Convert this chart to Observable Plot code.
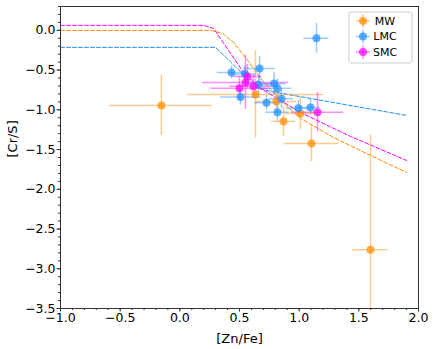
<!DOCTYPE html>
<html>
<head>
<meta charset="utf-8">
<script src="https://cdn.jsdelivr.net/npm/d3@7"></script>
<script src="https://cdn.jsdelivr.net/npm/@observablehq/plot@0.6"></script>
<style>
  body { margin: 0; background: #fff; }
  #chart { position: relative; width: 436px; height: 349px; }
  svg { font-family: "DejaVu Sans", sans-serif; }
</style>
</head>
<body>
<div id="chart"></div>
<script>
// ---- data ----
const seriesNames = ["MW", "LMC", "SMC"];
const seriesColors = ["#ff8c00", "#1e90ff", "#ff00ff"];

const mwX    = [-0.154, 1.598, 1.103, 0.869, 1.010, 0.810, 0.634];
const mwY    = [-0.945, -2.760, -1.423, -1.146, -1.045, -0.894, -0.806];
const mwXerr = [0.43, 0.147, 0.23, 0.10, 0.126, 0.17, 0.57];
const mwYerr = [0.38, 1.44, 0.23, 0.19, 0.20, 0.15, 0.55];

const lmcX    = [1.145, 0.433, 0.668, 0.545, 0.508, 0.660, 0.790, 0.818, 0.726, 0.852, 0.818, 0.994, 1.095];
const lmcY    = [-0.10, -0.53, -0.48, -0.55, -0.84, -0.68, -0.67, -0.73, -0.91, -0.86, -1.03, -0.98, -0.97];
const lmcXerr = [0.105, 0.12, 0.13, 0.10, 0.17, 0.12, 0.10, 0.12, 0.10, 0.10, 0.10, 0.10, 0.08];
const lmcYerr = [0.19, 0.08, 0.15, 0.10, 0.10, 0.12, 0.14, 0.12, 0.10, 0.12, 0.12, 0.10, 0.10];

const smcX    = [0.567, 0.550, 0.500, 0.617, 1.154];
const smcY    = [-0.58, -0.655, -0.73, -0.705, -1.03];
const smcXerr = [0.12, 0.36, 0.24, 0.20, 0.22];
const smcYerr = [0.15, 0.34, 0.15, 0.15, 0.25];

const mwLineX  = [-1.0, 0.257, 0.358, 0.450, 0.550, 0.693, 0.844, 1.011, 1.288, 1.598, 1.900];
const mwLineY  = [0.0, 0.0, -0.038, -0.151, -0.340, -0.630, -0.882, -1.108, -1.348, -1.574, -1.788];
const lmcLineX = [-1.0, 0.299, 0.567, 0.610, 0.659, 0.760, 1.900];
const lmcLineY = [-0.214, -0.214, -0.605, -0.665, -0.730, -0.768, -1.071];
const smcLineX = [-1.0, 0.198, 0.282, 0.408, 0.534, 0.676, 1.011, 1.430, 1.900];
const smcLineY = [0.063, 0.063, 0.025, -0.252, -0.529, -0.730, -1.033, -1.335, -1.637];

const xTicks = [-1.0, -0.5, 0.0, 0.5, 1.0, 1.5, 2.0];
const yTicks = [0.0, -0.5, -1.0, -1.5, -2.0, -2.5, -3.0, -3.5];

// ---- build tables ----
function pts(xs, ys, xe, ye, name) {
  return xs.map((x, i) => ({x, y: ys[i], xe: xe[i], ye: ye[i], s: name}));
}
const points = [
  ...pts(mwX, mwY, mwXerr, mwYerr, "MW"),
  ...pts(lmcX, lmcY, lmcXerr, lmcYerr, "LMC"),
  ...pts(smcX, smcY, smcXerr, smcYerr, "SMC")
];
function ln(xs, ys, name) { return xs.map((x, i) => ({x, y: ys[i], s: name})); }
const lines = [
  ...ln(mwLineX, mwLineY, "MW"),
  ...ln(lmcLineX, lmcLineY, "LMC"),
  ...ln(smcLineX, smcLineY, "SMC")
];
const colorOf = Object.fromEntries(seriesNames.map((n, i) => [n, seriesColors[i]]));
const fmt = d3.format(".1f");
const minorX = d3.range(-10, 21).map(d => d / 10);
const minorY = d3.range(-35, 4).map(d => d / 10);

const chart = Plot.plot({
  width: 436,
  height: 349,
  marginLeft: 60,
  marginRight: 18,
  marginTop: 6,
  marginBottom: 41,
  style: {fontFamily: "DejaVu Sans, sans-serif", fontSize: "12.5px", color: "#000", background: "#fff"},
  x: {domain: [-1, 2]},
  y: {domain: [-3.5, 0.3]},
  marks: [
    Plot.line(lines, {x: "x", y: "y", z: "s", stroke: d => colorOf[d.s], strokeWidth: 1, strokeDasharray: "4,2"}),
    Plot.ruleX(points, {x: "x", y1: d => d.y - d.ye, y2: d => d.y + d.ye, stroke: d => colorOf[d.s], strokeOpacity: 0.45, strokeWidth: 1.5, clip: true}),
    Plot.ruleY(points, {y: "y", x1: d => d.x - d.xe, x2: d => d.x + d.xe, stroke: d => colorOf[d.s], strokeOpacity: 0.45, strokeWidth: 1.5, clip: true}),
    Plot.dot(points, {x: "x", y: "y", r: 4, fill: d => colorOf[d.s], fillOpacity: 0.72, stroke: "none"}),
    Plot.frame({stroke: "#333", strokeWidth: 1}),
    Plot.axisX(minorX, {tickSize: 2, tickFormat: () => "", label: null, stroke: "#333"}),
    Plot.axisY(minorY, {tickSize: 2, tickFormat: () => "", label: null, stroke: "#333"}),
    Plot.axisX(xTicks, {tickSize: 3.5, tickPadding: 1.5, tickFormat: fmt, fontSize: 12.5, label: null, stroke: "#333", fill: "#000"}),
    Plot.axisY(yTicks, {tickSize: 3.5, tickPadding: 1.5, tickFormat: fmt, fontSize: 12.5, label: null, stroke: "#333", fill: "#000"}),
    Plot.text(["[Zn/Fe]"], {frameAnchor: "bottom", dy: 34, fontSize: 13, fill: "#000"}),
    Plot.text(["[Cr/S]"], {frameAnchor: "left", dx: -48, rotate: -90, fontSize: 13, fill: "#000"})
  ]
});
document.getElementById("chart").appendChild(chart);

// ---- legend (inside plot, top right) ----
const svg = d3.select(chart);
const lg = svg.append("g").attr("transform", "translate(349,12)");
lg.append("rect").attr("width", 63).attr("height", 51).attr("rx", 2)
  .attr("fill", "#fff").attr("fill-opacity", 0.8).attr("stroke", "#ccc");
seriesNames.forEach((n, i) => {
  const cy = 9 + i * 15.5;
  const c = seriesColors[i];
  lg.append("line").attr("x1", 7).attr("x2", 21).attr("y1", cy).attr("y2", cy).attr("stroke", c).attr("stroke-opacity", 0.45).attr("stroke-width", 1.5);
  lg.append("line").attr("x1", 14).attr("x2", 14).attr("y1", cy - 7).attr("y2", cy + 7).attr("stroke", c).attr("stroke-opacity", 0.45).attr("stroke-width", 1.5);
  lg.append("circle").attr("cx", 14).attr("cy", cy).attr("r", 4).attr("fill", c).attr("fill-opacity", 0.72);
  lg.append("text").attr("x", 36).attr("y", cy).attr("dy", "0.35em").attr("font-size", 11).attr("fill", "#000").text(n);
});
</script>
</body>
</html>
